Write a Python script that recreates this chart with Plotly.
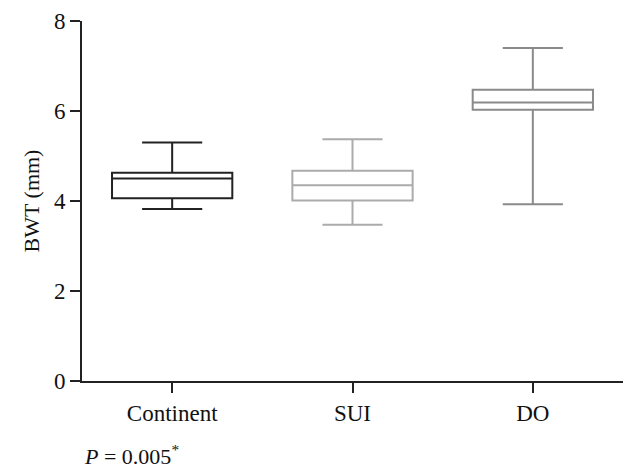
import plotly.graph_objects as go

categories = ["Continent", "SUI", "DO"]
q1 = [4.06, 4.01, 6.03]
median = [4.50, 4.35, 6.19]
q3 = [4.63, 4.67, 6.47]
lower = [3.82, 3.47, 3.93]
upper = [5.30, 5.37, 7.40]
colors = ["#222222", "#ababab", "#8a8a8a"]

FONT = "Liberation Serif, Times New Roman, serif"

fig = go.Figure()
for i, c in enumerate(categories):
    fig.add_trace(go.Box(
        x=[c], q1=[q1[i]], median=[median[i]], q3=[q3[i]],
        lowerfence=[lower[i]], upperfence=[upper[i]],
        boxpoints=False, width=0.667, whiskerwidth=0.5,
        line=dict(color=colors[i], width=2),
        fillcolor="rgba(255,255,255,0)",
        showlegend=False, hoverinfo="skip",
    ))

fig.update_layout(
    width=629, height=468,
    margin=dict(l=74, r=14, t=13, b=95, pad=0),
    plot_bgcolor="white", paper_bgcolor="white",
    font=dict(family=FONT, size=23, color="#111111"),
    xaxis=dict(
        type="category", categoryorder="array", categoryarray=categories,
        range=[-0.5, 2.5], showline=True, linecolor="#222222", linewidth=2,
        ticks="outside", ticklen=10, tickwidth=2, tickcolor="#222222",
        showgrid=False, zeroline=False, automargin=False,
        tickfont=dict(family=FONT, size=23),
    ),
    yaxis=dict(
        range=[0, 8], tickvals=[0, 2, 4, 6, 8], showline=True,
        linecolor="#222222", linewidth=2, ticks="outside", ticklen=10,
        tickwidth=2, tickcolor="#222222", showgrid=False, zeroline=False,
        automargin=False, tickfont=dict(family=FONT, size=23),
        title=dict(text="BWT (mm)", font=dict(family=FONT, size=22), standoff=8),
    ),
)

fig.add_annotation(
    text="<i>P</i> = 0.005<sup>*</sup>", xref="paper", yref="paper",
    x=0.0, y=-0.205, xanchor="left", yanchor="middle", showarrow=False,
    font=dict(family=FONT, size=22, color="#111111"),
)

fig.write_html("out.html")
